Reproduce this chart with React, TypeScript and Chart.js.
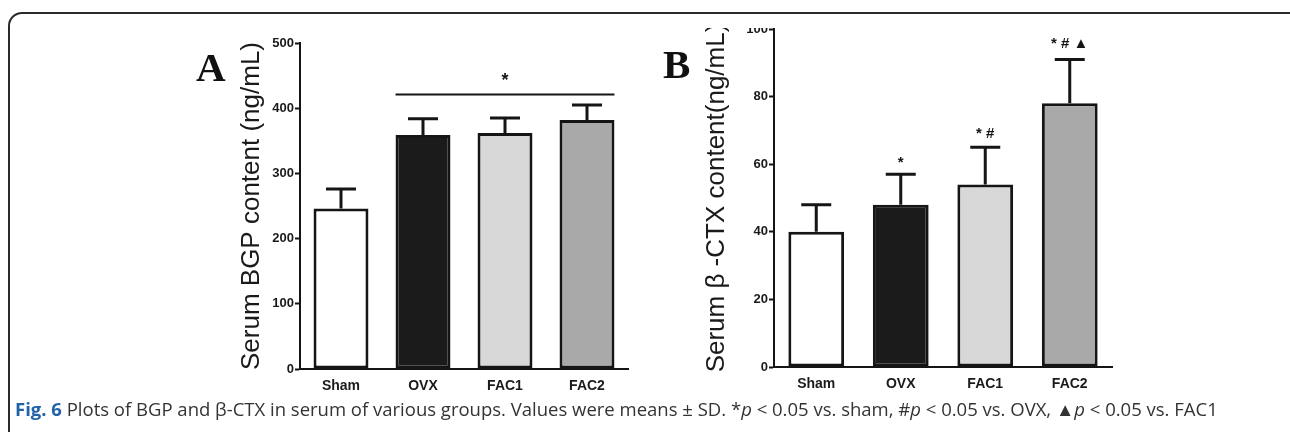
import React, { useEffect, useRef } from "react";
import { Chart, registerables } from "chart.js";

Chart.register(...registerables);

// ---------- data ----------
const categories = ["Sham", "OVX", "FAC1", "FAC2"];
const barColors = ["#ffffff", "#1b1b1b", "#d8d8d8", "#a9a9a9"];

// Panel A: serum BGP (ng/mL)
const bgpMeans = [246, 359, 362, 382];
const bgpSD = [30, 25, 23, 23];
const bgpTicks = [0, 100, 200, 300, 400, 500];
const bgpSigLineValue = 421;
const bgpSigStarValue = 448;
const bgpSigLabel = "*";

// Panel B: serum beta-CTX (ng/mL)
const ctxMeans = [40, 48, 54, 78];
const ctxSD = [8, 9, 11, 13];
const ctxTicks = [0, 20, 40, 60, 80, 100];
const ctxMarks = ["", "*", "* #", "* # \u25B2"];
const ctxMarkValues = [0, 60.5, 69, 95.5];

const INK = "#151515";
const SANS = "'Liberation Sans', Arial, Helvetica, sans-serif";

const errorBarPlugin = (sd: number[]) => ({
  id: "errorBars",
  afterDatasetsDraw(chart: any) {
    const meta = chart.getDatasetMeta(0);
    const y = chart.scales.y;
    const ctx = chart.ctx;
    const vals = chart.data.datasets[0].data as number[];
    ctx.save();
    ctx.strokeStyle = INK;
    ctx.lineWidth = 3;
    ctx.lineCap = "butt";
    meta.data.forEach((bar: any, i: number) => {
      const yBar = y.getPixelForValue(vals[i]);
      const yTop = y.getPixelForValue(vals[i] + sd[i]);
      ctx.beginPath();
      ctx.moveTo(bar.x, yBar);
      ctx.lineTo(bar.x, yTop);
      ctx.moveTo(bar.x - 15, yTop);
      ctx.lineTo(bar.x + 15, yTop);
      ctx.stroke();
    });
    ctx.restore();
  },
});

const sigLinePlugin = {
  id: "sigLine",
  afterDatasetsDraw(chart: any) {
    const meta = chart.getDatasetMeta(0);
    const y = chart.scales.y;
    const ctx = chart.ctx;
    const b1 = meta.data[1];
    const b3 = meta.data[3];
    const yl = y.getPixelForValue(bgpSigLineValue);
    ctx.save();
    ctx.strokeStyle = INK;
    ctx.lineWidth = 2;
    ctx.beginPath();
    ctx.moveTo(b1.x - b1.width / 2, yl);
    ctx.lineTo(b3.x + b3.width / 2, yl);
    ctx.stroke();
    ctx.fillStyle = INK;
    ctx.font = `bold 18px ${SANS}`;
    ctx.textAlign = "center";
    ctx.textBaseline = "middle";
    ctx.fillText(bgpSigLabel, meta.data[2].x, y.getPixelForValue(bgpSigStarValue) + 4);
    ctx.restore();
  },
};

const marksPlugin = {
  id: "marks",
  afterDatasetsDraw(chart: any) {
    const meta = chart.getDatasetMeta(0);
    const y = chart.scales.y;
    const ctx = chart.ctx;
    ctx.save();
    ctx.fillStyle = INK;
    ctx.font = `bold 15px ${SANS}`;
    ctx.textAlign = "center";
    ctx.textBaseline = "middle";
    ctxMarks.forEach((m, i) => {
      if (!m) return;
      ctx.fillText(m, meta.data[i].x, y.getPixelForValue(ctxMarkValues[i]));
    });
    ctx.restore();
  },
};

type PanelCfg = {
  values: number[];
  sd: number[];
  ticks: number[];
  title: string;
  yWidth: number;
  xHeight: number;
  padTop: number;
  padRight: number;
  titlePad: number;
  barPct: number;
  extra: any[];
};

function makeChart(canvas: HTMLCanvasElement, c: PanelCfg) {
  const max = c.ticks[c.ticks.length - 1];
  return new Chart(canvas, {
    type: "bar",
    data: {
      labels: categories,
      datasets: [
        {
          data: c.values,
          backgroundColor: barColors,
          borderColor: INK,
          borderWidth: 3,
          borderSkipped: false,
          barPercentage: c.barPct,
          categoryPercentage: 1,
        },
      ],
    },
    options: {
      responsive: false,
      animation: false,
      devicePixelRatio: 1,
      layout: { padding: { left: 0, top: c.padTop, right: c.padRight, bottom: 0 } },
      plugins: { legend: { display: false }, tooltip: { enabled: false } },
      scales: {
        x: {
          offset: true,
          grid: { display: false, drawTicks: false },
          border: { display: true, width: 2, color: INK },
          ticks: { color: "#1a1a1a", font: { family: SANS, size: 14, weight: "bold" }, padding: 9 },
          afterFit: (s: any) => {
            s.height = c.xHeight;
          },
        },
        y: {
          min: 0,
          max,
          afterBuildTicks: (s: any) => {
            s.ticks = c.ticks.map((v) => ({ value: v }));
          },
          grid: {
            display: true,
            drawOnChartArea: false,
            drawTicks: true,
            tickLength: 5,
            tickWidth: 2,
            tickColor: INK,
          },
          border: { display: true, width: 2, color: INK },
          ticks: { color: "#1a1a1a", font: { family: SANS, size: 13, weight: "bold" }, padding: 1 },
          title: {
            display: true,
            text: c.title,
            color: "#1a1a1a",
            font: { family: SANS, size: 26, weight: "normal", lineHeight: 1.2 },
            padding: { top: c.titlePad, bottom: 0 },
          },
          afterFit: (s: any) => {
            s.width = c.yWidth;
          },
        },
      },
    },
    plugins: [errorBarPlugin(c.sd), ...c.extra],
  });
}

function Panel(props: { cfg: PanelCfg; width: number; height: number }) {
  const ref = useRef<HTMLCanvasElement | null>(null);
  useEffect(() => {
    if (!ref.current) return;
    const ch = makeChart(ref.current, props.cfg);
    return () => ch.destroy();
  }, []);
  return <canvas ref={ref} width={props.width} height={props.height} style={{ display: "block" }} />;
}

const cfgA: PanelCfg = {
  values: bgpMeans,
  sd: bgpSD,
  ticks: bgpTicks,
  title: "Serum BGP content (ng/mL)",
  yWidth: 80,
  xHeight: 31,
  padTop: 23,
  padRight: 12,
  titlePad: 16,
  barPct: 0.67,
  extra: [sigLinePlugin],
};

const cfgB: PanelCfg = {
  values: ctxMeans,
  sd: ctxSD,
  ticks: ctxTicks,
  title: "Serum \u03B2 -CTX content(ng/mL)",
  yWidth: 84,
  xHeight: 33,
  padTop: 21,
  padRight: 8,
  titlePad: 11,
  barPct: 0.66,
  extra: [marksPlugin],
};

export default function App() {
  const letter: React.CSSProperties = {
    position: "absolute",
    fontFamily: "'Liberation Serif', 'Times New Roman', serif",
    fontWeight: "bold",
    fontSize: 41,
    lineHeight: 1,
    color: "#111",
  };
  return (
    <div
      style={{
        position: "absolute",
        left: 0,
        top: 0,
        width: 1290,
        height: 432,
        overflow: "hidden",
        background: "#ffffff",
      }}
    >
      <div
        style={{
          position: "absolute",
          left: 8,
          top: 12,
          width: 1300,
          height: 460,
          border: "2px solid #2a2a2a",
          borderRadius: 14,
          boxSizing: "border-box",
        }}
      />
      <div style={{ position: "absolute", left: 220, top: 20 }}>
        <Panel cfg={cfgA} width={420} height={380} />
      </div>
      <div style={{ position: "absolute", left: 690, top: 28, width: 430, height: 372, overflow: "hidden" }}>
        <div style={{ position: "absolute", left: 0, top: -20 }}>
          <Panel cfg={cfgB} width={430} height={392} />
        </div>
      </div>
      <div style={{ ...letter, left: 196, top: 47 }}>A</div>
      <div style={{ ...letter, left: 663, top: 44 }}>B</div>
      <div
        style={{
          position: "absolute",
          left: 15,
          top: 400,
          fontFamily: "'Open Sans', sans-serif",
          fontSize: 18.5,
          lineHeight: 1,
          color: "#333",
          whiteSpace: "nowrap",
        }}
      >
        <span style={{ fontWeight: "bold", color: "#2262a8" }}>Fig. 6</span>
        {" Plots of BGP and β-CTX in serum of various groups. Values were means ± SD. *"}
        <i>p</i>
        {" < 0.05 vs. sham, #"}
        <i>p</i>
        {" < 0.05 vs. OVX, ▲"}
        <i>p</i>
        {" < 0.05 vs. FAC1"}
      </div>
    </div>
  );
}
